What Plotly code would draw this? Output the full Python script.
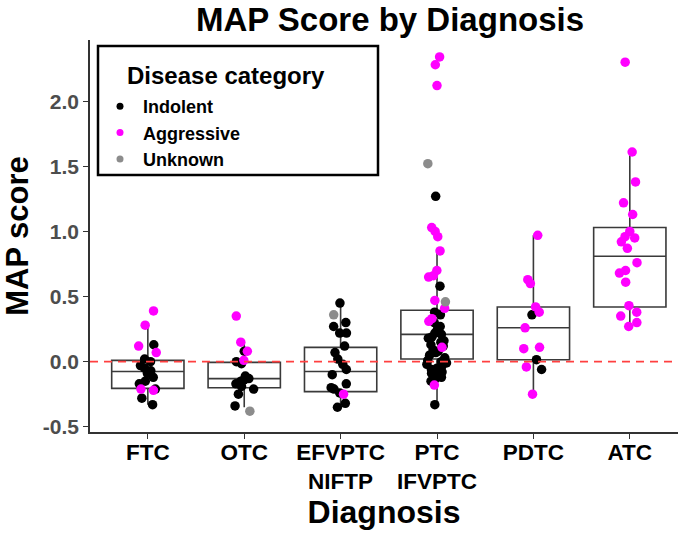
import plotly.graph_objects as go

# ---------------- data ----------------
categories = ["FTC", "OTC", "EFVPTC<br>NIFTP", "PTC<br>IFVPTC", "PDTC", "ATC"]

indolent = [
    [0.13, 0.02, 0.0, -0.03, -0.05, -0.07, -0.09, -0.12, -0.15, -0.17, -0.21, -0.28, -0.33],
    [0.08, 0.0, -0.015, -0.11, -0.13, -0.14, -0.15, -0.17, -0.19, -0.21, -0.25, -0.34],
    [0.45, 0.30, 0.27, 0.22, 0.22, 0.12, 0.07, 0.02, -0.02, -0.06, -0.10, -0.17, -0.20, -0.21, -0.24, -0.32, -0.35],
    [1.27, 0.58, 0.38, 0.36, 0.30, 0.27, 0.25, 0.22, 0.21, 0.19, 0.18, 0.16, 0.15, 0.13, 0.12, 0.09,
     0.08, 0.07, 0.05, 0.03, 0.01, 0.0, -0.01, -0.02, -0.04, -0.05, -0.06, -0.08, -0.09, -0.11,
     -0.12, -0.14, -0.15, -0.33],
    [0.36, 0.015, -0.06],
    [],
]
aggressive = [
    [0.39, 0.28, 0.12, 0.07, -0.21, -0.22],
    [0.35, 0.15, 0.08, 0.01],
    [-0.25],
    [2.34, 2.28, 2.12, 1.03, 1.0, 0.96, 0.85, 0.70, 0.66, 0.65, 0.47, 0.41, 0.33, 0.31, 0.11, -0.18],
    [0.97, 0.63, 0.60, 0.42, 0.38, 0.26, 0.11, 0.10, -0.04, -0.25],
    [2.30, 1.61, 1.38, 1.22, 1.13, 1.0, 0.96, 0.95, 0.92, 0.87, 0.76, 0.70, 0.68, 0.61, 0.43,
     0.38, 0.35, 0.30, 0.27],
]
unknown = [
    [],
    [-0.38],
    [0.36],
    [1.52, 0.46],
    [],
    [],
]

# box statistics
box_q1 = [-0.205, -0.20, -0.23, 0.02, 0.015, 0.42]
box_median = [-0.075, -0.13, -0.075, 0.21, 0.26, 0.81]
box_q3 = [0.01, -0.005, 0.11, 0.395, 0.42, 1.03]
box_lower = [-0.33, -0.35, -0.35, -0.33, -0.25, 0.27]
box_upper = [0.28, 0.15, 0.45, 0.85, 0.97, 1.61]

y_tickvals = [-0.5, 0.0, 0.5, 1.0, 1.5, 2.0]
y_ticktext = ["-0.5", "0.0", "0.5", "1.0", "1.5", "2.0"]

series = [
    ("Indolent", indolent, "#000000"),
    ("Aggressive", aggressive, "#FF00FF"),
    ("Unknown", unknown, "#8C8C8C"),
]

FONT = "Liberation Sans"
W, H = 678, 535
ML, MR, MT, MB = 90, 0, 40, 103
PW = W - ML - MR
PH = H - MT - MB


def px_x(p):
    return (p - ML) / PW


def px_y(p):
    return (MT + PH - p) / PH


fig = go.Figure()

idx = list(range(len(categories)))

# boxes
fig.add_trace(go.Box(
    x=idx,
    q1=box_q1, median=box_median, q3=box_q3,
    lowerfence=box_lower, upperfence=box_upper,
    width=0.75, whiskerwidth=0,
    boxpoints=False,
    fillcolor="white",
    line=dict(color="#3a3a3a", width=1.6),
    showlegend=False,
    hoverinfo="skip",
))

# zero reference line
fig.add_trace(go.Scatter(
    x=[-0.6, 5.5], y=[0, 0], mode="lines",
    line=dict(color="#FF4040", width=1.7, dash="8px,6px"),
    showlegend=False, hoverinfo="skip",
))

# jittered points
for name, groups, color in series:
    xs, ys = [], []
    for i, vals in enumerate(groups):
        xs += [i] * len(vals)
        ys += vals
    fig.add_trace(go.Box(
        x=xs, y=ys,
        width=0.75, whiskerwidth=0,
        boxpoints="all", jitter=0.3, pointpos=0,
        fillcolor="rgba(0,0,0,0)",
        line=dict(color="rgba(0,0,0,0)", width=0),
        marker=dict(color=color, size=9.5, opacity=1),
        showlegend=False,
        name=name,
    ))
    # legend entry
    fig.add_trace(go.Scatter(
        x=[None], y=[None], mode="markers",
        marker=dict(color=color, size=7),
        name=name, showlegend=True,
    ))

fig.update_layout(
    width=W, height=H,
    margin=dict(l=ML, r=MR, t=MT, b=MB),
    paper_bgcolor="white", plot_bgcolor="white",
    boxmode="overlay",
    font=dict(family=FONT, color="black"),
    title=dict(
        text="MAP Score by Diagnosis",
        font=dict(family=FONT, size=33, color="black", weight="bold"),
        x=px_x(390), xref="paper", xanchor="center",
        y=1 - 19 / H, yref="container", yanchor="middle",
    ),
    xaxis=dict(
        type="linear", range=[-0.6, 5.5],
        tickvals=idx, ticktext=categories,
        showgrid=False, zeroline=False,
        showline=True, linecolor="#333333", linewidth=1.6,
        ticks="outside", ticklen=5, tickcolor="#333333", tickwidth=1.3,
        ticklabelstandoff=-6,
        tickfont=dict(family=FONT, size=22.5, color="black", weight="bold"),
        title=dict(text="Diagnosis",
                   font=dict(family=FONT, size=32, color="black", weight="bold"),
                   standoff=8),
    ),
    yaxis=dict(
        range=[-0.54, 2.47],
        tickvals=y_tickvals, ticktext=y_ticktext,
        showgrid=False, zeroline=False,
        showline=True, linecolor="#333333", linewidth=1.6,
        ticks="outside", ticklen=5, tickcolor="#333333", tickwidth=1.3,
        tickfont=dict(family=FONT, size=21, color="#4D4D4D", weight="bold"),
        title=dict(text="MAP score",
                   font=dict(family=FONT, size=31, color="black", weight="bold"),
                   standoff=6),
    ),
    legend=dict(
        x=px_x(97), xanchor="left",
        y=px_y(88), yanchor="top",
        bgcolor="rgba(0,0,0,0)", borderwidth=0,
        font=dict(family=FONT, size=18, color="black", weight="bold"),
        itemwidth=36,
        itemsizing="trace",
        tracegroupgap=0,
    ),
    shapes=[dict(
        type="rect", xref="paper", yref="paper",
        x0=px_x(98), x1=px_x(378), y0=px_y(175), y1=px_y(46),
        line=dict(color="black", width=2.5), fillcolor="white", layer="below",
    )],
    annotations=[dict(
        text="Disease category", xref="paper", yref="paper",
        x=px_x(125), y=px_y(75), xanchor="left", yanchor="middle",
        showarrow=False,
        font=dict(family=FONT, size=24, color="black", weight="bold"),
    )],
)

fig.write_html("out.html")
